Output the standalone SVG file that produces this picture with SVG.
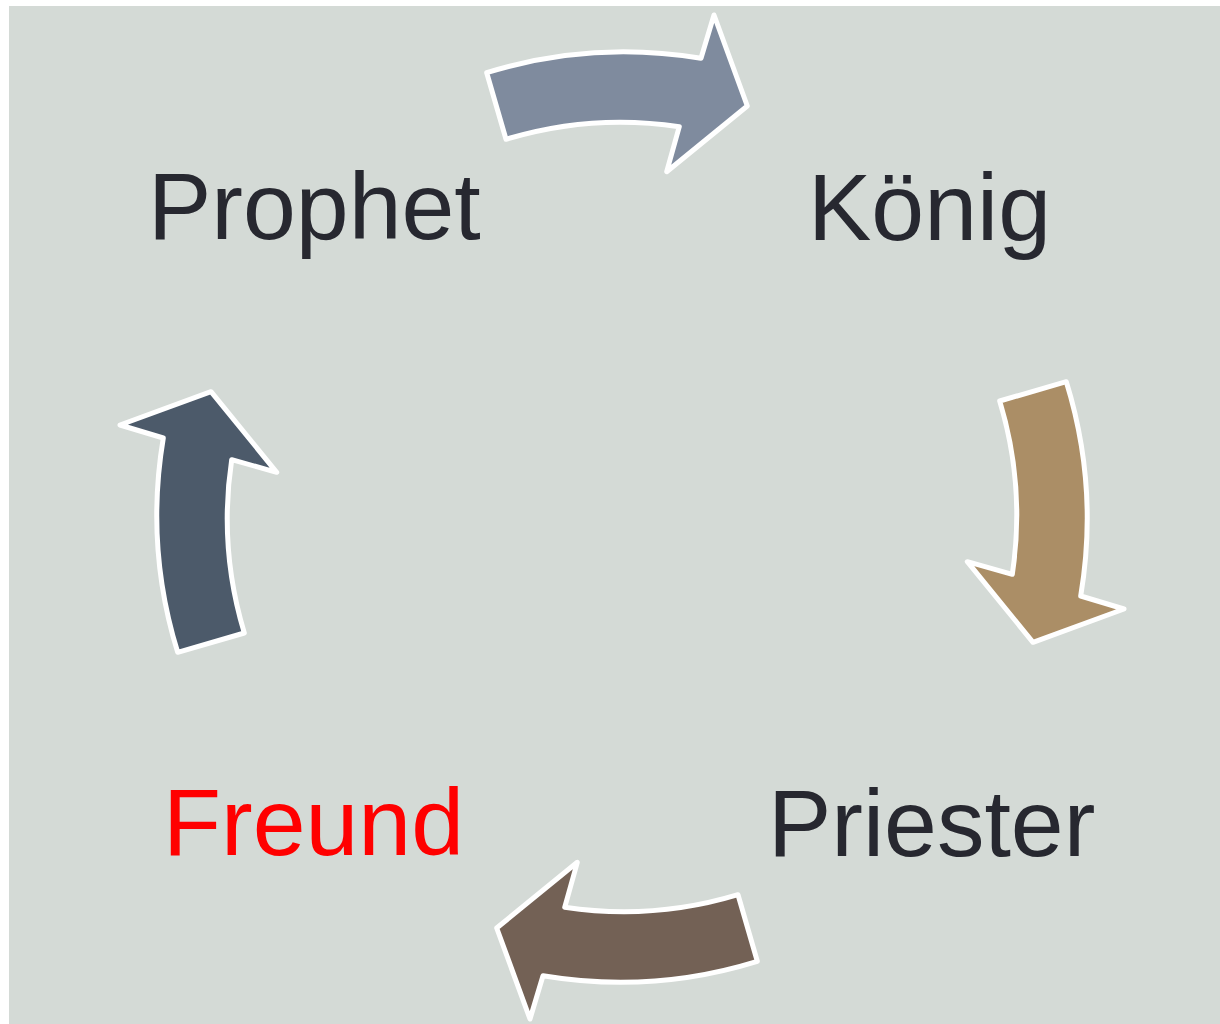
<svg xmlns="http://www.w3.org/2000/svg" width="1220" height="1024" viewBox="0 0 1220 1024">
  <style>
    .lbl { font-family: "Liberation Sans", Arial, sans-serif; font-size: 95px; fill: #272830; }
    .red { fill: #ff0000; }
    .arrow { stroke: #ffffff; stroke-width: 5; stroke-linejoin: round; }
  </style>
  <defs>
    <path id="arc-arrow" d="M 486.7 72.7 A 464.5 464.5 0 0 1 701 58.3 L 714 15 L 747.3 106 L 666.7 171.7 L 679.3 126.7 A 395 395 0 0 0 506 139.3 Z"/>
  </defs>
  <rect x="9" y="6" width="1211" height="1018" fill="#d4dad6"/>
  <g id="connectors">
    <use href="#arc-arrow" class="arrow" fill="#7f8b9e"/>
    <use href="#arc-arrow" class="arrow" fill="#ab8e66" transform="rotate(90 622 517)"/>
    <use href="#arc-arrow" class="arrow" fill="#736155" transform="rotate(180 622 517)"/>
    <use href="#arc-arrow" class="arrow" fill="#4c5a6a" transform="rotate(270 622 517)"/>
  </g>
  <g id="node-prophet">
    <text class="lbl" x="148" y="239">Prophet</text>
  </g>
  <g id="node-koenig">
    <text class="lbl" x="808" y="240">König</text>
  </g>
  <g id="node-priester">
    <text class="lbl" x="768" y="856">Priester</text>
  </g>
  <g id="node-freund">
    <text class="lbl red" x="163" y="855">Freund</text>
  </g>
</svg>
